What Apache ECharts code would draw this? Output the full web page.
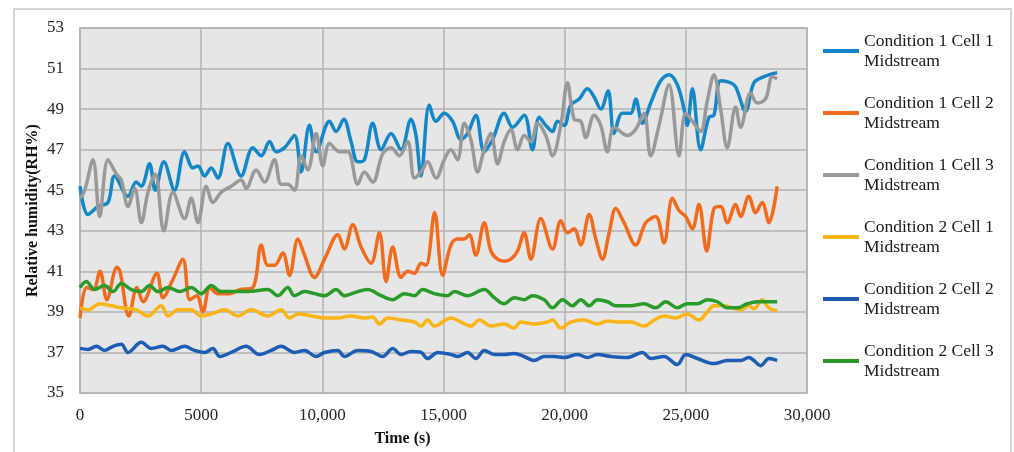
<!DOCTYPE html>
<html lang="en">
<head>
<meta charset="UTF-8">
<title>Relative humidity</title>
<style>
  html, body { margin: 0; padding: 0; background: #fff; }
  #main { width: 1014px; height: 452px; }
</style>
</head>
<body>
<div id="main"></div>
<script src="https://cdn.jsdelivr.net/npm/echarts@6/dist/echarts.min.js"></script>
<script>
// [time (s), RH %]
var c1Cell1 = [[0,45.2],[330,43.8],[740,44.2],[1155,44.4],[1430,45.7],[1980,44.7],[2320,45.4],[2530,45.2],[2870,46.3],[3105,45.0],[3460,46.4],[3900,45.0],[4315,46.9],[4660,46.1],[4865,46.2],[5140,45.7],[5415,46.1],[5690,45.6],[6100,47.3],[6650,45.7],[7130,47.1],[7480,46.7],[7820,47.4],[8095,46.9],[8440,47.1],[8850,47.7],[9125,45.9],[9470,48.2],[9745,46.9],[10295,48.4],[10570,47.9],[10885,48.5],[11185,47.4],[11460,46.4],[11735,46.5],[12080,48.3],[12425,47.0],[12835,47.8],[13250,47.0],[13660,48.5],[13865,47.7],[14070,45.7],[14415,49.2],[14690,48.4],[15030,48.8],[15375,48.4],[15720,47.5],[15995,47.8],[16335,48.7],[16680,46.9],[17025,47.5],[17505,48.8],[17850,48.1],[18330,48.7],[18670,47.0],[18950,48.6],[19220,48.2],[19500,47.9],[19700,48.4],[19980,48.2],[20250,49.2],[20600,49.5],[20940,50.0],[21215,49.6],[21490,49.0],[21790,49.9],[22040,47.8],[22380,48.8],[22725,48.8],[22930,49.5],[23205,48.3],[23550,49.3],[23960,50.4],[24305,50.7],[24650,50.2],[24925,49.0],[25060,48.2],[25270,50.0],[25610,47.0],[25955,48.6],[26160,48.7],[26435,50.4],[26850,50.3],[27055,50.1],[27465,48.9],[27810,50.3],[28220,50.6],[28770,50.8]];
var c1Cell2 = [[0,38.7],[275,40.2],[550,40.1],[825,41.0],[1110,39.6],[1525,41.2],[1650,41.0],[2020,38.8],[2350,40.2],[2600,39.5],[3175,40.9],[3420,39.7],[3835,40.6],[4245,41.6],[4535,39.6],[4820,39.8],[5070,39.0],[5360,40.2],[5690,39.9],[6185,39.9],[6595,40.1],[7130,40.2],[7480,42.3],[7750,41.3],[8025,41.3],[8370,41.9],[8645,40.8],[8990,42.6],[9265,41.8],[9675,40.7],[10090,41.6],[10640,42.8],[10910,42.1],[11255,43.3],[11600,42.2],[12010,41.4],[12355,42.9],[12630,40.5],[12905,42.2],[13250,40.7],[13525,41.0],[13800,40.9],[14075,41.4],[14280,41.3],[14633,43.9],[14963,40.8],[15305,42.3],[15580,42.6],[15855,42.6],[16060,42.8],[16335,41.8],[16680,43.4],[16955,42.0],[17230,41.6],[17505,41.5],[17780,41.6],[18055,42.0],[18330,42.9],[18605,41.6],[19015,43.6],[19500,42.1],[19840,43.5],[20115,42.9],[20390,43.1],[20665,42.3],[21010,43.8],[21285,42.6],[21560,41.6],[21835,42.9],[22110,44.1],[22450,43.4],[22930,42.3],[23345,43.4],[23755,43.7],[24100,42.4],[24445,44.6],[24720,44.0],[24995,43.7],[25270,43.1],[25540,44.3],[25860,42.0],[26160,44.1],[26435,44.2],[26710,43.4],[27055,44.3],[27260,43.7],[27600,44.7],[27880,43.9],[28150,44.4],[28430,43.4],[28770,45.2]];
var c1Cell3 = [[0,44.6],[195,45.0],[535,46.5],[810,43.7],[1155,46.5],[1500,45.8],[1705,45.5],[1980,44.2],[2255,45.1],[2530,43.4],[2805,44.9],[3105,45.8],[3460,43.0],[3835,44.9],[4315,43.6],[4590,44.6],[4865,43.4],[5210,45.2],[5485,44.4],[5825,44.9],[6240,45.2],[6650,45.5],[6855,45.1],[7270,46.0],[7615,45.4],[8025,46.5],[8300,45.3],[8575,45.3],[8850,45.0],[9125,46.7],[9400,46.0],[9745,47.8],[10020,46.2],[10295,47.3],[10705,46.9],[11050,46.9],[11460,45.3],[11735,45.9],[12080,45.4],[12490,46.8],[12835,47.1],[13180,46.7],[13525,47.4],[13800,45.6],[14075,45.9],[14345,46.4],[14690,45.6],[15030,46.5],[15305,47.0],[15580,46.5],[15855,48.3],[16130,47.5],[16405,45.9],[16680,47.0],[16955,47.8],[17230,46.3],[17505,47.4],[17780,48.0],[18055,47.0],[18330,47.7],[18605,47.4],[18880,48.3],[19220,47.7],[19500,46.7],[19840,48.2],[20115,50.3],[20390,48.5],[20665,48.4],[20870,47.6],[21215,48.7],[21490,48.2],[21765,46.9],[22040,48.1],[22590,47.7],[22930,48.0],[23275,48.8],[23550,46.7],[23895,48.2],[24305,50.2],[24720,46.7],[24995,48.8],[25335,48.3],[25610,47.9],[25885,49.4],[26160,50.7],[26435,49.0],[26710,47.1],[27055,49.1],[27260,48.1],[27670,49.8],[27945,49.3],[28290,49.5],[28565,50.6],[28770,50.5]];
var c2Cell1 = [[0,39.2],[330,39.1],[810,39.4],[1290,39.3],[1705,39.2],[2320,39.1],[2805,38.8],[3355,39.3],[3630,38.8],[4040,39.1],[4590,39.1],[5000,38.8],[5415,38.9],[5965,39.1],[6515,38.8],[7060,39.1],[7750,38.8],[8300,39.1],[8645,38.7],[8990,38.9],[9540,38.8],[10090,38.7],[10640,38.7],[11185,38.8],[11735,38.7],[12080,38.75],[12355,38.4],[12700,38.7],[13250,38.6],[13800,38.5],[14070,38.3],[14345,38.6],[14620,38.3],[15305,38.7],[15720,38.5],[16130,38.3],[16475,38.6],[16955,38.3],[17505,38.4],[17915,38.2],[18190,38.5],[18740,38.4],[19290,38.5],[19500,38.6],[19840,38.2],[20250,38.5],[20800,38.6],[21350,38.4],[21765,38.55],[22180,38.5],[22725,38.5],[23275,38.3],[23690,38.6],[24100,38.8],[24580,38.7],[25060,38.9],[25540,38.6],[25885,39.0],[26160,39.3],[26570,39.3],[26915,39.2],[27260,39.1],[27600,39.3],[27810,39.15],[28150,39.6],[28430,39.2],[28770,39.05]];
var c2Cell2 = [[0,37.2],[330,37.15],[675,37.3],[1015,37.1],[1360,37.3],[1705,37.4],[1980,37.0],[2530,37.5],[2940,37.2],[3420,37.3],[3765,37.1],[4315,37.3],[4725,37.1],[5140,37.0],[5485,37.2],[5760,36.8],[6240,37.0],[6855,37.3],[7405,36.9],[7890,37.1],[8300,37.3],[8850,37.0],[9265,37.1],[9745,36.8],[10090,37.0],[10640,37.1],[10910,36.8],[11460,37.1],[12010,37.05],[12490,36.8],[12905,37.2],[13250,36.9],[13660,37.05],[14075,37.0],[14345,36.7],[14760,37.0],[15305,36.9],[15580,36.8],[15995,37.0],[16335,36.7],[16680,37.1],[17095,36.9],[17505,36.9],[17915,36.95],[18330,36.8],[18740,36.6],[19155,36.8],[19565,36.8],[19980,36.75],[20530,36.9],[20940,36.75],[21350,36.9],[21900,36.8],[22590,36.75],[23205,37.0],[23550,36.7],[24100,36.8],[24650,36.4],[24995,36.9],[25475,36.7],[26160,36.45],[26710,36.6],[27260,36.6],[27600,36.75],[27810,36.6],[28085,36.35],[28430,36.7],[28770,36.6]];
var c2Cell3 = [[0,40.2],[260,40.5],[605,40.1],[1015,40.3],[1360,40.0],[1705,40.4],[2115,40.1],[2530,40.0],[2870,40.3],[3215,40.0],[3630,40.2],[4110,40.0],[4590,40.2],[5000,39.9],[5415,40.3],[5825,40.0],[6375,40.0],[6925,40.0],[7750,40.1],[8165,39.8],[8575,40.2],[8850,39.8],[9265,40.0],[9675,39.9],[10090,39.8],[10570,40.1],[10910,39.8],[11460,40.0],[11875,40.1],[12425,39.8],[12905,39.6],[13385,39.9],[13800,39.8],[14140,40.1],[14620,39.9],[15170,39.8],[15445,40.0],[15995,39.8],[16680,40.1],[17095,39.7],[17505,39.4],[17915,39.7],[18330,39.6],[18670,39.8],[19155,39.6],[19500,39.2],[19910,39.6],[20320,39.3],[20665,39.6],[21010,39.3],[21350,39.6],[21765,39.5],[22110,39.3],[22725,39.3],[23275,39.4],[23755,39.2],[24170,39.5],[24650,39.2],[25060,39.4],[25475,39.4],[25885,39.6],[26300,39.5],[26710,39.2],[27120,39.2],[27535,39.4],[27945,39.5],[28220,39.5],[28495,39.5],[28770,39.5]];

var seriesNames = [
    'Condition 1 Cell 1\nMidstream',
    'Condition 1 Cell 2\nMidstream',
    'Condition 1 Cell 3\nMidstream',
    'Condition 2 Cell 1\nMidstream',
    'Condition 2 Cell 2\nMidstream',
    'Condition 2 Cell 3\nMidstream'
];
var seriesData = [c1Cell1, c1Cell2, c1Cell3, c2Cell1, c2Cell2, c2Cell3];
var colors = ['#1487c8', '#f26a1b', '#999999', '#fbb414', '#1d5db4', '#2a9b2a'];
var xTickLabels = ['0', '5000', '10,000', '15,000', '20,000', '25,000', '30,000'];

var serif = 'Liberation Serif';
var main = echarts.init(document.getElementById('main'));

var series = seriesData.map(function (d, i) {
    return {
        name: seriesNames[i],
        type: 'line',
        data: d,
        smooth: 0.35,
        showSymbol: false,
        symbol: 'none',
        lineStyle: { width: 3.5, color: colors[i] },
        itemStyle: { color: colors[i] }
    };
});

var option = {
    animation: false,
    backgroundColor: '#fff',
    graphic: [{
        type: 'rect',
        z: -10,
        shape: { x: 14, y: 9, width: 997, height: 450 },
        style: { fill: 'none', stroke: '#c8c8c8', lineWidth: 1.5 }
    }],
    grid: {
        left: 80, top: 28, right: 207, bottom: 57,
        show: true,
        backgroundColor: '#e6e6e6',
        borderColor: '#b2b2b2',
        borderWidth: 1.5
    },
    legend: {
        orient: 'vertical',
        left: 823,
        top: 21,
        padding: 0,
        itemGap: 2,
        itemWidth: 36,
        itemHeight: 4,
        icon: 'rect',
        data: seriesNames,
        textStyle: {
            fontFamily: serif,
            fontSize: 17.5,
            color: '#1a1a1a',
            lineHeight: 20,
            padding: [20, 0, 0, 0]
        }
    },
    xAxis: {
        type: 'value',
        min: 0,
        max: 30000,
        interval: 5000,
        name: 'Time (s)',
        nameLocation: 'middle',
        nameGap: 38,
        nameTextStyle: {
            fontFamily: serif, fontSize: 16, fontWeight: 'bold', color: '#111',
            padding: [0, 82, 0, 0]
        },
        axisLine: { show: false },
        axisTick: { show: false },
        axisLabel: {
            margin: 14,
            fontFamily: serif, fontSize: 17, color: '#262626',
            formatter: function (v) { return xTickLabels[Math.round(v / 5000)]; }
        },
        splitLine: { lineStyle: { color: '#b2b2b2', width: 1.5 } }
    },
    yAxis: {
        type: 'value',
        min: 35,
        max: 53,
        interval: 2,
        name: 'Relative humidity(RH%)',
        nameLocation: 'middle',
        nameGap: 39,
        nameMoveOverlap: false,
        nameTextStyle: { fontFamily: serif, fontSize: 16, fontWeight: 'bold', color: '#111' },
        axisLine: { show: false },
        axisTick: { show: false },
        axisLabel: { margin: 16, fontFamily: serif, fontSize: 17, color: '#262626' },
        splitLine: { lineStyle: { color: '#b2b2b2', width: 1.5 } }
    },
    series: series
};
main.setOption(option);
</script>
</body>
</html>
